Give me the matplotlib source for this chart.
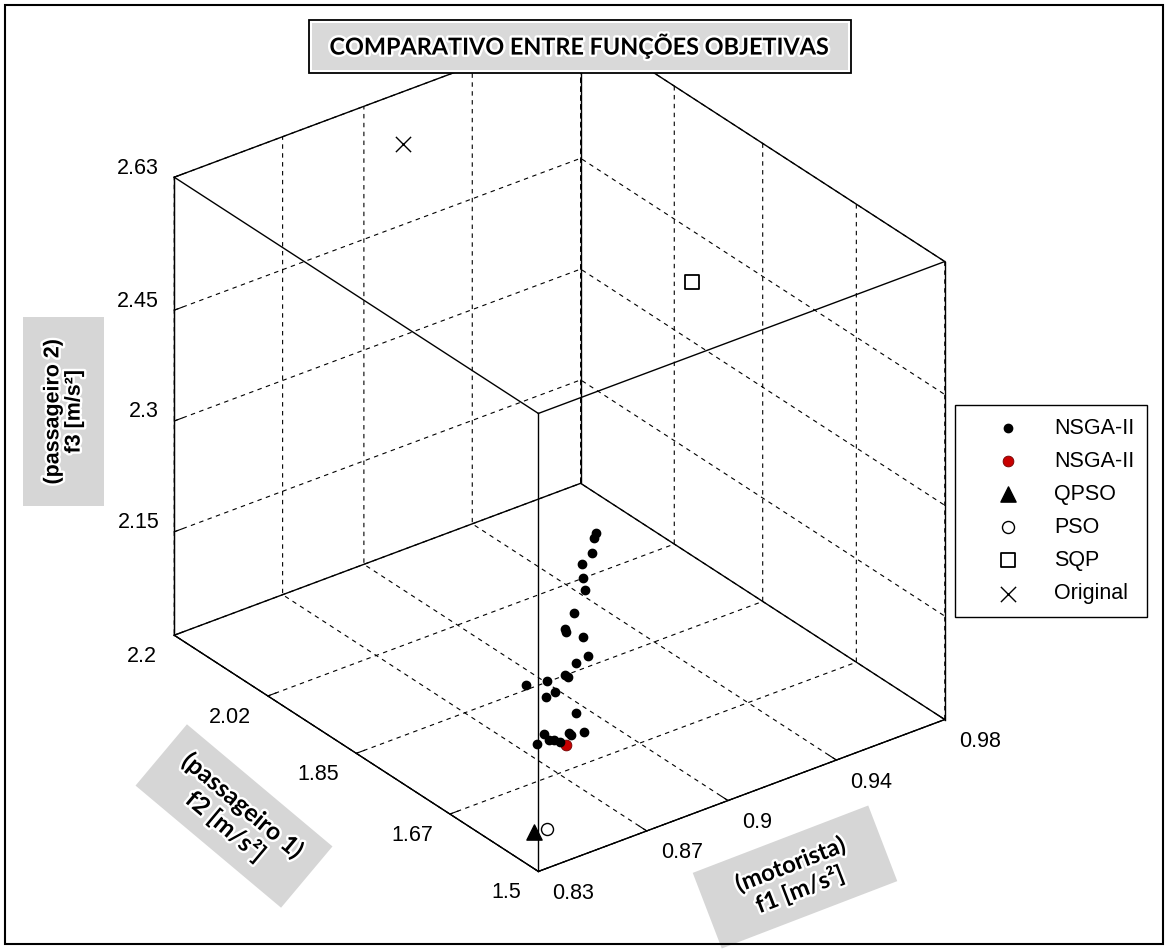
import numpy as np
import matplotlib
matplotlib.use('Agg')
import matplotlib.pyplot as plt
from matplotlib import patheffects
from matplotlib.patches import Rectangle
from matplotlib.transforms import IdentityTransform
from mpl_toolkits.mplot3d import proj3d

W, H = 1168, 949

# --- eixos ---
f1_lim = (0.83, 0.98)
f2_lim = (1.5, 2.2)
f3_lim = (2.01, 2.63)
f1_ticks = [0.83, 0.87, 0.9, 0.94, 0.98]
f1_ticklabels = ['0.83', '0.87', '0.9', '0.94', '0.98']
f2_ticks = [1.5, 1.67, 1.85, 2.02, 2.2]
f2_ticklabels = ['1.5', '1.67', '1.85', '2.02', '2.2']
f3_ticks = [2.15, 2.3, 2.45, 2.63]
f3_ticklabels = ['2.15', '2.3', '2.45', '2.63']

# --- NSGA-II (fronteira) ---
nsga_f1 = [0.8581, 0.8580, 0.8592, 0.8568, 0.8590, 0.8613, 0.8601, 0.8588, 0.8595,
           0.8665, 0.8707, 0.8671, 0.8646, 0.8660, 0.8515, 0.8587, 0.8631, 0.8603,
           0.8734, 0.8785, 0.8731, 0.8643, 0.8669, 0.8688, 0.8709, 0.8629, 0.8743]
nsga_f2 = [1.5352, 1.5383, 1.5482, 1.5554, 1.5646, 1.5725, 1.5876, 1.5981, 1.6001,
           1.6034, 1.6159, 1.6205, 1.6283, 1.6296, 1.6349, 1.6323, 1.6395, 1.6428,
           1.6533, 1.6658, 1.6665, 1.6671, 1.6711, 1.6711, 1.6723, 1.6737, 1.6678]
nsga_f3 = [2.4139, 2.4061, 2.3797, 2.3648, 2.3385, 2.3156, 2.2791, 2.2545, 2.2486,
           2.2307, 2.1935, 2.1869, 2.1704, 2.1652, 2.1718, 2.1685, 2.1444, 2.1399,
           2.0955, 2.0571, 2.0628, 2.0732, 2.0596, 2.0571, 2.0509, 2.0585, 2.0578]

# --- solucoes individuais ---
nsga_sel = (0.8736, 1.6748, 2.0411)
qpso = (0.8300, 1.5077, 2.0593)
pso = (0.8345, 1.5062, 2.0579)
sqp = (0.9271, 1.7100, 2.5790)
original = (0.8956, 2.1010, 2.6300)

plt.rcParams['font.family'] = ['Liberation Sans', 'DejaVu Sans']
plt.rcParams['grid.color'] = 'k'
plt.rcParams['grid.linewidth'] = 0.8
plt.rcParams['grid.linestyle'] = '--'
plt.rcParams['lines.dashed_pattern'] = [4, 4]

fig = plt.figure(figsize=(W / 100, H / 100), dpi=100)
ax = fig.add_axes([0, 0, 1, 1], projection='3d', proj_type='ortho')
ax.view_init(elev=29.5, azim=-127.2)
ax.set_box_aspect((510, 602, 526))

for a in (ax.xaxis, ax.yaxis, ax.zaxis):
    a.set_pane_color((1, 1, 1, 1))
    a.pane.set_edgecolor('white')
    a._axinfo['tick']['inward_factor'] = 0.0
    a._axinfo['tick']['outward_factor'] = 0.25
    a._axinfo['axisline']['linewidth'] = 1.0

# rotulos dos ticks sao escritos a mao (posicao estilo MATLAB)
ax.set_xticks(f1_ticks, labels=[''] * len(f1_ticks))
ax.set_yticks(f2_ticks, labels=[''] * len(f2_ticks))
ax.set_zticks(f3_ticks, labels=[''] * len(f3_ticks))
ax.set_xlim(*f1_lim)
ax.set_ylim(*f2_lim)
ax.set_zlim(*f3_lim)
ax.grid(True)

# caixa completa (estilo MATLAB)
x0, x1 = f1_lim
y0, y1 = f2_lim
z0, z1 = f3_lim
edges = [
    ([x0, x1], [y0, y0], [z0, z0]), ([x0, x1], [y1, y1], [z0, z0]),
    ([x0, x1], [y0, y0], [z1, z1]), ([x0, x1], [y1, y1], [z1, z1]),
    ([x0, x0], [y0, y1], [z0, z0]), ([x1, x1], [y0, y1], [z0, z0]),
    ([x0, x0], [y0, y1], [z1, z1]), ([x1, x1], [y0, y1], [z1, z1]),
    ([x0, x0], [y0, y0], [z0, z1]), ([x1, x1], [y0, y0], [z0, z1]),
    ([x0, x0], [y1, y1], [z0, z1]), ([x1, x1], [y1, y1], [z0, z1]),
]
for ex, ey, ez in edges:
    ax.plot(ex, ey, ez, color='k', lw=1.0)

ax.scatter(nsga_f1, nsga_f2, nsga_f3, s=36, c='k', marker='o', depthshade=False,
           label='NSGA-II')
ax.scatter([nsga_sel[0]], [nsga_sel[1]], [nsga_sel[2]], s=60, c='#c80000',
           edgecolors='#700000', linewidths=0.6, depthshade=False, label='NSGA-II')
ax.scatter([qpso[0]], [qpso[1]], [qpso[2]], s=120, c='k', marker='^',
           depthshade=False, label='QPSO')
ax.scatter([pso[0]], [pso[1]], [pso[2]], s=75, facecolors='white', edgecolors='k',
           linewidths=1.0, marker='o', depthshade=False, label='PSO')
ax.scatter([sqp[0]], [sqp[1]], [sqp[2]], s=110, facecolors='white', edgecolors='k',
           linewidths=1.3, marker='s', depthshade=False, label='SQP')
ax.scatter([original[0]], [original[1]], [original[2]], s=120, c='k', marker='x',
           linewidths=1.0, depthshade=False, label='Original')


def to_px(xs, ys, zs):
    px, py, _ = proj3d.proj_transform(np.asarray(xs, float), np.asarray(ys, float),
                                      np.asarray(zs, float), ax.get_proj())
    return ax.transData.transform(np.column_stack([px, py]))


# ajusta posicao da caixa projetada na figura
fig.canvas.draw()
alvo = np.array([(539, 872), (539, 414), (175, 635), (175, 178),
                 (945, 720), (945, 262), (579, 482), (579, 24)], float)
alvo[:, 1] = H - alvo[:, 1]
gx, gy, gz = np.meshgrid([x0, x1], [y0, y1], [z0, z1], indexing='ij')
cur = to_px(gx.ravel(), gy.ravel(), gz.ravel())
bb = ax.bbox
c0 = np.array([bb.x0 + bb.width / 2, bb.y0 + bb.height / 2])
q = (cur - c0) / bb.width
A = np.zeros((16, 3))
rhs = np.zeros(16)
for i in range(8):
    A[2 * i] = [1, 0, q[i, 0]]
    rhs[2 * i] = alvo[i, 0]
    A[2 * i + 1] = [0, 1, q[i, 1]]
    rhs[2 * i + 1] = alvo[i, 1]
cx, cy, L = np.linalg.lstsq(A, rhs, rcond=None)[0]
ax.set_position([(cx - L / 2) / W, (cy - L / 2) / H, L / W, L / H])
fig.canvas.draw()

px_tr = IdentityTransform()
tick_fs = 15.5
# f1: alinhado a esquerda, abaixo/direita do tick
for (tx, ty), s in zip(to_px(f1_ticks, [y0] * 5, [z0] * 5), f1_ticklabels):
    fig.text(tx + 14, ty - 22, s, transform=px_tr, fontsize=tick_fs,
             ha='left', va='center')
# f2: alinhado a direita, abaixo/esquerda
for (tx, ty), s in zip(to_px([x0] * 5, f2_ticks, [z0] * 5), f2_ticklabels):
    fig.text(tx - 17, ty - 21.5, s, transform=px_tr, fontsize=tick_fs,
             ha='right', va='center')
# f3: alinhado a direita, na aresta esquerda
for (tx, ty), s in zip(to_px([x0] * 4, [y1] * 4, f3_ticks), f3_ticklabels):
    fig.text(tx - 15, ty + 9, s, transform=px_tr, fontsize=tick_fs,
             ha='right', va='center')

leg = fig.legend(loc='upper left', bbox_to_anchor=(955 / W, 1 - 405 / H),
                 frameon=True, fancybox=False, edgecolor='k', framealpha=1,
                 borderaxespad=0, borderpad=0.6, handlelength=3.7,
                 handletextpad=0.3, labelspacing=0.56, fontsize=15.5,
                 scatterpoints=1)
leg.get_frame().set_linewidth(1.0)

# caixas de texto (titulo e rotulos)
glow = [patheffects.withStroke(linewidth=3.5, foreground='white')]
rend = fig.canvas.get_renderer()


def fit_size(s, family, target, size0=16):
    t = fig.text(0, 0, s, fontsize=size0, family=family, fontweight='bold')
    w = t.get_window_extent(renderer=rend).width
    t.remove()
    return size0 * target / w


fig.patches.append(Rectangle((309, H - 73), 542, 53, transform=px_tr,
                             facecolor='white', edgecolor='k', lw=1.3))
fig.patches.append(Rectangle((312, H - 70), 536, 47, transform=px_tr,
                             facecolor='#d9d9d9', edgecolor='none'))
titulo = 'COMPARATIVO ENTRE FUNÇÕES OBJETIVAS'
fig.text(579 / W, 1 - 46 / H, titulo, family=['Lato', 'DejaVu Sans'],
         fontweight='bold', fontsize=fit_size(titulo, 'Lato', 500),
         ha='center', va='center', path_effects=glow)

rotulos = [
    ('(passageiro 2)', 'f3 [m/s²]', (63.5, 411.5), 81, 189, 0, 90,
     'Liberation Sans', 145),
    ('(passageiro 1)', 'f2 [m/s²]', (234, 816), 190, 80, -40, -40, 'Lato', 150),
    ('(motorista)', 'f1 [m/s²]', (795, 877), 188, 81, 21, 21, 'Lato', 116),
]
for l1, l2, (cxp, cyp), bw, bh, ang, rot, fam, tw in rotulos:
    cyd = H - cyp
    fig.patches.append(Rectangle((cxp - bw / 2, cyd - bh / 2), bw, bh, angle=ang,
                                 rotation_point='center', transform=px_tr,
                                 facecolor='#d6d6d6', edgecolor='none'))
    fig.text(cxp / W, cyd / H, l1 + '\n' + l2, family=[fam, 'DejaVu Sans'],
             fontweight='bold', fontsize=fit_size(l1, fam, tw), rotation=rot,
             rotation_mode='anchor', ha='center', va='center',
             multialignment='center', linespacing=1.15, path_effects=glow)

# moldura da figura
fig.patches.append(Rectangle((5, 5), W - 10, H - 10, transform=px_tr,
                             fill=False, edgecolor='k', lw=1.5))

fig.savefig('out.png', dpi=100)
